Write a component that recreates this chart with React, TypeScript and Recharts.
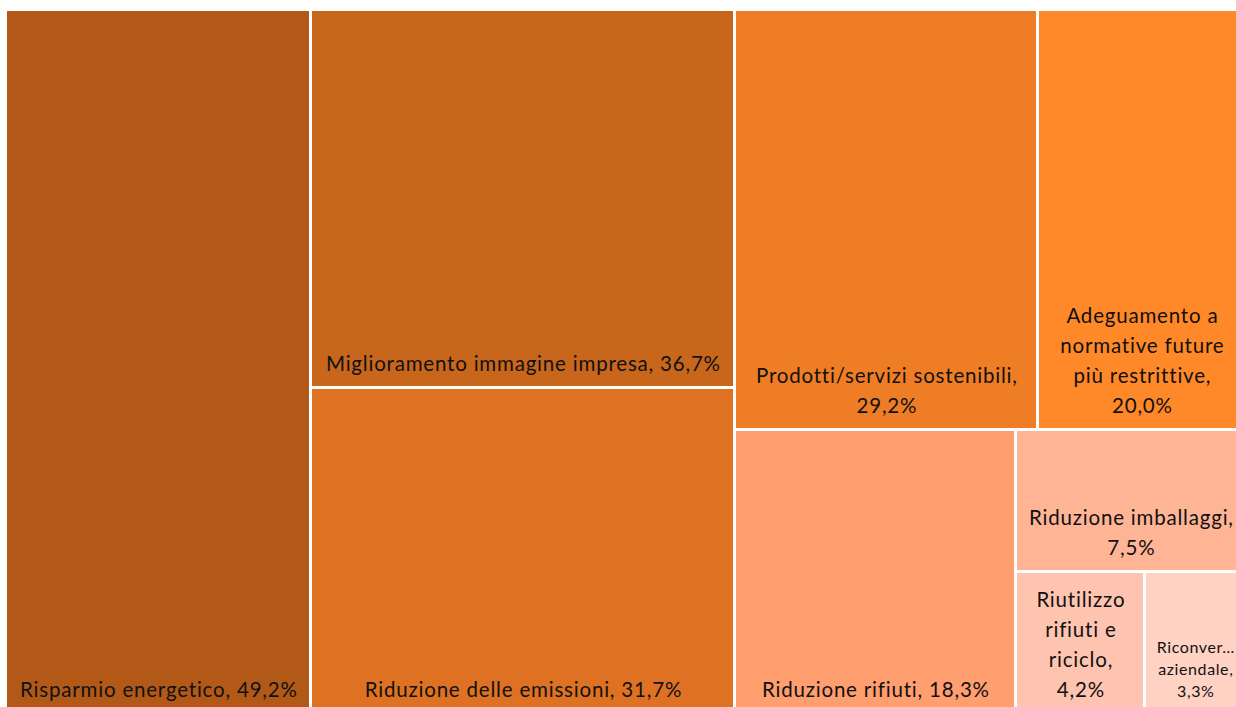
import { Treemap } from 'recharts'

// Motivazioni per investimenti green (% di imprese)
const NAMES = [
  'Risparmio energetico',
  'Miglioramento immagine impresa',
  'Riduzione delle emissioni',
  'Prodotti/servizi sostenibili',
  'Adeguamento a normative future più restrittive',
  'Riduzione rifiuti',
  'Riduzione imballaggi',
  'Riutilizzo rifiuti e riciclo',
  'Riconversione aziendale',
]
const VALUES = [49.2, 36.7, 31.7, 29.2, 20.0, 18.3, 7.5, 4.2, 3.3]
// columns of the original layout (indexes into NAMES)
const GROUPS = [[0], [1, 2], [3, 4, 5, 6, 7, 8]]

const COLORS = [
  '#b25918', // risparmio
  '#c8661c', // immagine
  '#de7222', // emissioni
  '#ef7d25', // prodotti
  '#ff8828', // normative
  '#ff9e6e', // rifiuti
  '#ffb496', // imballaggi
  '#ffc4b0', // riutilizzo
  '#ffd2c4', // riconversione
]

const FONT = 'Lato, "Noto Sans", sans-serif'

const data = GROUPS.map((g, i) => ({
  name: `gruppo ${i + 1}`,
  children: g.map((k) => ({ name: NAMES[k], size: VALUES[k] })),
}))

let ctx: CanvasRenderingContext2D | null = null
function textWidth(s: string, size: number, ls: number) {
  if (!ctx) ctx = document.createElement('canvas').getContext('2d')
  ctx!.font = `${size}px ${FONT}`
  return ctx!.measureText(s).width + s.length * ls
}

function truncate(s: string, size: number, ls: number, maxW: number) {
  let t = s
  while (t.length > 1 && textWidth(t + '…', size, ls) > maxW) t = t.slice(0, -1)
  return t + '…'
}

function wrap(text: string, size: number, ls: number, maxW: number) {
  const words = text.split(' ')
  const lines: string[] = []
  let cur = ''
  for (const w of words) {
    const t = cur ? cur + ' ' + w : w
    if (!cur || textWidth(t, size, ls) <= maxW) cur = t
    else {
      lines.push(cur)
      cur = w
    }
  }
  if (cur) lines.push(cur)
  return lines.map((l) => (textWidth(l, size, ls) <= maxW ? l : truncate(l, size, ls, maxW)))
}

function Tile(props: any) {
  const { x, y, width, height, depth, name } = props
  if (depth !== 2) return null
  const idx = NAMES.indexOf(name)
  const val = VALUES[idx]
  const small = width < 110
  const size = small ? 16 : 20.5
  const ls = small ? 0.6 : 0.8
  const lh = small ? 22 : 30
  const pad = small ? 10 : 9
  const label = `${name}, ${val.toFixed(1).replace('.', ',')}%`
  const lines = wrap(label, size, ls, width - pad * 2)
  const bottom = y + height - 2 - 15
  const cx = x + width / 2 + ls / 2
  return (
    <g>
      <rect x={x + 1} y={y + 1} width={width - 3} height={height - 3} fill={COLORS[idx]} />
      {lines.map((l, i) => (
        <text
          key={i}
          x={cx}
          y={bottom - (lines.length - 1 - i) * lh}
          textAnchor="middle"
          fontFamily={FONT}
          fontSize={size}
          letterSpacing={ls}
          fill="#111"
        >
          {l}
        </text>
      ))}
    </g>
  )
}

export default function App() {
  return (
    <div style={{ position: 'fixed', left: 0, top: 0, width: 1236, height: 707, overflow: 'hidden', background: '#fff' }}>
      <div style={{ position: 'absolute', left: 6, top: 10 }}>
        <Treemap
          width={1240}
          height={704}
          data={data}
          dataKey="size"
          aspectRatio={1}
          isAnimationActive={false}
          content={<Tile />}
        />
      </div>
    </div>
  )
}
